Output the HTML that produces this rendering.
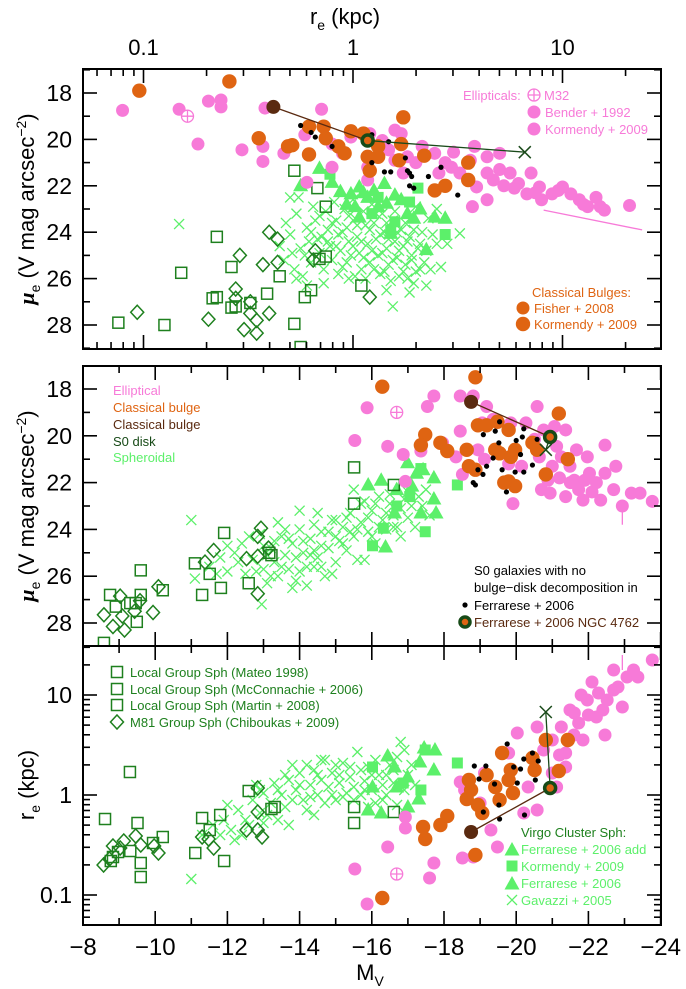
<!DOCTYPE html>
<html><head><meta charset="utf-8"><style>
html,body{margin:0;padding:0;background:#fff}
svg{display:block;font-family:"Liberation Sans",sans-serif}
</style></head><body>
<svg id="chart" width="686" height="989" viewBox="0 0 686 989" xmlns="http://www.w3.org/2000/svg">
<defs>
<clipPath id="c1"><rect x="83" y="69" width="578" height="280"/></clipPath>
<clipPath id="c2"><rect x="83" y="366" width="578" height="280"/></clipPath>
<clipPath id="c3"><rect x="83" y="646" width="578" height="279"/></clipPath>
</defs>
<g id="marks"></g>
<g id="axes"></g>
<text x="345" y="24" font-size="22" text-anchor="middle">r<tspan font-size="14" dy="6">e</tspan><tspan dy="-6"> (kpc)</tspan></text>
<text x="370" y="980" font-size="22" text-anchor="middle">M<tspan font-size="14" dy="6">V</tspan></text>
<text transform="translate(34,209) rotate(-90)" font-size="22" text-anchor="middle"><tspan font-family="Liberation Serif" font-style="italic" font-weight="bold">μ</tspan><tspan font-size="14" dy="6">e</tspan><tspan dy="-6"> (V mag arcsec</tspan><tspan font-size="14" dy="-8">−2</tspan><tspan dy="8">)</tspan></text>
<text transform="translate(34,506) rotate(-90)" font-size="22" text-anchor="middle"><tspan font-family="Liberation Serif" font-style="italic" font-weight="bold">μ</tspan><tspan font-size="14" dy="6">e</tspan><tspan dy="-6"> (V mag arcsec</tspan><tspan font-size="14" dy="-8">−2</tspan><tspan dy="8">)</tspan></text>
<text transform="translate(34,785) rotate(-90)" font-size="22" text-anchor="middle">r<tspan font-size="14" dy="6">e</tspan><tspan dy="-6">  (kpc)</tspan></text>
<g id="legends" font-size="13"></g>
</svg>
<script>
// ---------- DATA ----------
// Panel 1: [log10 re (kpc), mu_e]
const p1Ell=[[-1.10,18.75],[-0.83,18.7],[-0.69,18.35],[-0.63,18.3],[-0.63,18.6],[-0.74,20.2],[-0.53,20.45],[-0.43,20.3],[-0.43,20.95],[-0.42,18.65],[-0.33,20.6],[-0.23,19.8],[-0.22,21.85],[-0.15,18.7],[-0.10,20.2],[-0.01,19.9],[0.08,19.75],[0.07,21.75],[0.17,20.45],[0.20,19.6],[0.23,19.75],[0.26,20.75],[0.33,20.3],[0.39,20.6],[0.41,21.45],[0.48,20.55],[0.47,21.2],[0.51,21.45],[0.58,20.3],[0.56,20.9],[0.59,22.05],[0.64,21.45],[0.64,22.6],[0.67,21.75],[0.70,21.3],[0.72,22.0],[0.75,21.45],[0.79,21.9],[0.83,22.35],[0.85,21.45],[0.89,22.05],[0.90,22.6],[0.95,22.35],[1.00,22.05],[1.04,22.35],[1.08,22.6],[1.12,22.9],[1.16,22.5],[1.20,23.05],[1.32,22.85],[0.57,22.9],[0.20,20.9],[0.24,21.45],[0.07,21.2],[0.14,20.05],[-0.05,20.6],[-0.10,21.2],[0.64,20.75],[0.70,20.6],[0.77,22.1],[0.87,22.3],[0.98,22.2],[1.10,22.8],[1.18,22.9],[0.44,21.0],[0.30,21.0]];
const p1M32=[[-0.79,19.0]];
const p1EllLine=[[0.91,23.05],[1.38,23.9]];
const p1Bul=[[-1.02,17.9],[-0.59,17.5],[-0.45,19.95],[-0.31,20.3],[-0.29,20.25],[-0.21,20.65],[-0.21,19.45],[-0.14,19.45],[-0.13,19.95],[-0.07,20.3],[-0.04,20.6],[-0.01,19.65],[0.05,19.75],[0.07,20.75],[0.08,21.35],[0.12,20.3],[0.12,20.75],[0.22,20.9],[0.24,19.05],[0.23,20.2],[0.34,20.7],[0.39,22.2],[0.44,22.0],[0.55,21.0],[0.55,21.75]];
const p1N4762=[[-0.38,18.6],[0.07,20.05],[0.82,20.55]];
const p1Dots=[[-0.25,19.4],[-0.20,19.7],[-0.18,19.9],[-0.10,20.3],[0.09,19.8],[0.17,20.1],[0.09,21.0],[0.15,21.4],[0.18,21.4],[0.25,20.8],[0.26,21.35],[0.27,21.45],[0.28,21.6],[0.27,22.0],[0.29,22.1],[0.36,21.6],[0.42,21.2],[0.50,22.4]];
const p1Tri=[[-0.25,22.0],[-0.16,21.25],[-0.10,21.85],[-0.06,22.25],[-0.01,22.35],[0.03,22.05],[0.07,22.5],[0.12,22.9],[0.15,21.9],[0.16,22.75],[0.23,22.6],[0.26,23.2],[0.29,23.4],[0.35,24.75],[0.39,23.35],[0.44,23.4],[0.18,24.05],[0.03,23.35],[-0.03,22.8],[0.05,22.3],[0.10,22.2],[0.20,22.4],[0.32,23.0],[0.01,22.9]];
const p1Sq=[[-0.11,21.5],[0.31,22.1],[0.27,22.7],[0.20,23.55],[0.18,23.9],[0.44,24.1],[0.09,23.2],[0.12,22.5]];
const p1X=[[-0.35,24.6],[-0.33,25.2],[-0.30,24.1],[-0.28,25.6],[-0.27,23.2],[-0.25,24.7],[-0.24,25.9],[-0.22,23.8],[-0.21,24.4],[-0.20,25.3],[-0.19,22.9],[-0.18,23.5],[-0.16,24.9],[-0.15,24.2],[-0.14,25.6],[-0.13,23.1],[-0.12,23.9],[-0.11,24.6],[-0.10,25.2],[-0.09,22.7],[-0.08,23.5],[-0.07,24.1],[-0.06,24.8],[-0.05,25.5],[-0.04,23.0],[-0.03,23.8],[-0.02,24.4],[-0.01,25.0],[0.00,22.6],[0.01,23.4],[0.02,24.2],[0.03,24.9],[0.04,25.6],[0.05,23.1],[0.06,23.7],[0.07,24.5],[0.08,25.3],[0.09,22.8],[0.10,23.6],[0.11,24.3],[0.12,25.0],[0.13,25.8],[0.14,23.2],[0.15,24.0],[0.16,24.7],[0.17,25.4],[0.18,26.1],[0.19,23.5],[0.20,24.4],[0.21,25.1],[0.22,25.9],[0.23,23.9],[0.24,24.6],[0.25,25.4],[0.26,26.0],[0.27,24.2],[0.28,25.0],[0.30,25.7],[0.32,24.5],[0.34,25.3],[0.36,23.4],[0.38,24.1],[0.40,23.0],[0.42,25.5],[0.45,24.5],[0.29,26.2],[-0.30,22.5],[-0.26,22.5],[-0.83,23.65],[0.19,27.2],[0.51,24.05],[0.35,26.3],
[-0.32,23.6],[-0.29,24.9],[-0.27,26.0],[-0.23,25.0],[-0.22,26.3],[-0.20,24.0],[-0.17,24.3],[-0.16,23.3],[-0.14,26.2],[-0.12,24.4],[-0.10,23.6],[-0.08,24.6],[-0.07,25.8],[-0.05,24.0],[-0.03,25.3],[-0.02,23.3],[0.00,24.6],[0.01,25.9],[0.02,23.7],[0.04,24.4],[0.05,25.1],[0.06,26.0],[0.08,23.9],[0.09,24.8],[0.10,25.6],[0.11,23.2],[0.13,24.1],[0.14,24.9],[0.15,25.7],[0.16,23.6],[0.17,24.3],[0.19,25.2],[0.20,23.1],[0.21,24.0],[0.22,24.8],[0.24,25.7],[0.25,23.6],[0.26,24.4],[0.28,25.2],[0.29,23.9],[0.31,24.7],[0.32,25.6],[0.33,24.0],[0.35,24.8],[0.37,25.6],[0.27,26.6],[0.16,26.5],[-0.02,26.0],[0.40,24.5],[0.30,22.9]];
const p1LG=[[-1.12,27.9],[-0.90,28.0],[-0.82,25.75],[-0.65,24.2],[-0.67,26.85],[-0.65,26.8],[-0.58,25.5],[-0.58,27.25],[-0.56,27.2],[-0.49,27.05],[-0.41,26.65],[-0.35,25.9],[-0.28,21.35],[-0.28,27.95],[-0.25,28.95],[-0.23,26.8],[-0.20,26.5],[-0.17,22.1],[-0.13,22.9],[-0.13,25.05],[-0.16,25.15],[0.04,26.3]];
const p1M81=[[-1.03,27.45],[-0.69,27.75],[-0.56,26.45],[-0.56,26.85],[-0.54,25.0],[-0.49,27.0],[-0.49,27.5],[-0.46,27.8],[-0.52,28.2],[-0.46,28.35],[-0.40,27.5],[-0.43,25.4],[-0.40,24.0],[-0.36,24.3],[-0.36,25.3],[-0.18,24.8],[-0.19,25.2],[0.08,26.8]];

// Panel 2: [M_V, mu_e]
const p2Ell=[[-15.87,18.8],[-15.53,20.2],[-16.44,20.45],[-16.87,20.8],[-16.93,21.95],[-17.36,20.65],[-17.54,18.75],[-17.72,18.3],[-17.96,20.3],[-18.33,20.9],[-18.45,19.8],[-18.45,18.3],[-18.51,21.65],[-18.81,18.3],[-19.18,18.75],[-19.06,19.45],[-19.36,19.3],[-18.94,20.6],[-19.12,21.0],[-19.91,22.9],[-20.15,21.3],[-20.27,19.45],[-20.58,18.75],[-20.51,20.15],[-20.76,19.75],[-21.06,19.6],[-21.37,19.75],[-21.12,20.45],[-21.0,21.3],[-21.25,20.9],[-21.49,21.3],[-21.61,21.9],[-21.73,22.3],[-21.37,22.6],[-21.97,20.9],[-22.03,21.6],[-22.22,22.0],[-22.46,20.4],[-22.46,21.6],[-22.70,22.3],[-22.76,21.3],[-22.94,23.0],[-23.19,22.45],[-23.43,22.45],[-23.77,22.8],[-20.88,21.9],[-21.85,22.75],[-22.34,22.75],[-20.64,20.9],[-19.79,21.2],[-19.85,19.45],[-21.67,20.6],[-20.94,22.45],[-21.5,22.0],[-21.9,21.9],[-22.1,22.4],[-21.2,21.8],[-20.7,22.3]];
const p2M32=[[-16.69,19.0]];
const p2Bul=[[-16.29,17.9],[-18.87,17.5],[-21.18,19.05],[-17.48,19.95],[-17.36,20.4],[-17.90,20.3],[-18.09,20.65],[-18.63,20.6],[-18.69,21.3],[-18.94,19.55],[-19.18,19.55],[-19.48,19.4],[-19.79,19.75],[-19.42,20.6],[-19.54,20.75],[-19.85,20.9],[-19.97,20.6],[-19.79,21.95],[-19.97,22.15],[-20.45,20.3],[-20.58,20.6],[-20.82,21.65],[-21.43,21.0],[-18.87,21.45],[-19.67,22.0]];
const p2N4762=[[-18.75,18.55],[-20.94,20.05],[-20.82,20.6]];
const p2Dots=[[-19.54,19.4],[-20.21,19.7],[-19.09,19.95],[-19.42,19.8],[-20.17,20.05],[-20.0,20.2],[-19.52,20.3],[-20.58,20.15],[-19.36,20.95],[-20.12,20.8],[-20.45,21.25],[-19.18,21.3],[-18.94,21.45],[-19.08,21.65],[-19.61,21.45],[-19.97,21.55],[-20.21,21.55],[-18.81,22.0],[-18.87,22.1],[-19.73,22.4]];
const p2Tri=[[-16.99,21.15],[-17.42,21.45],[-17.72,21.8],[-15.90,22.1],[-16.26,21.9],[-17.24,21.6],[-17.11,22.15],[-17.36,23.3],[-17.78,23.3],[-16.38,24.75],[-16.69,22.3],[-17.72,22.7],[-16.63,23.3]];
const p2Sq=[[-17.36,21.4],[-18.37,22.1],[-17.48,24.1],[-16.02,24.7],[-16.32,23.95],[-17.05,22.6],[-16.69,23.0]];
const p2X=[[-11.1,26.1],[-11.0,23.6],[-12.95,27.2],[-11.5,25.6],[-11.8,25.2],[-12.0,25.8],[-12.2,25.0],[-12.4,24.6],[-12.5,25.9],[-12.7,25.3],[-12.9,24.2],[-13.0,25.7],[-13.1,26.3],[-13.2,24.8],[-13.3,25.4],[-13.4,26.0],[-13.5,24.3],[-13.6,25.1],[-13.7,25.7],[-13.8,24.6],[-13.9,26.2],[-14.0,24.0],[-14.1,25.0],[-14.2,25.6],[-14.3,24.4],[-14.4,23.8],[-14.5,25.2],[-14.6,24.7],[-14.7,26.0],[-14.8,24.1],[-14.9,23.6],[-15.0,25.4],[-15.1,24.5],[-15.2,23.9],[-15.3,24.9],[-15.4,23.3],[-15.5,24.3],[-15.6,25.3],[-15.7,23.7],[-15.8,22.8],[-15.9,24.1],[-16.0,23.2],[-16.1,24.6],[-16.2,22.6],[-16.3,23.6],[-16.4,24.0],[-16.5,22.9],[-16.6,23.4],[-16.8,24.3],[-16.9,22.7],[-17.0,23.5],[-17.2,23.9],[-17.4,23.0],[-13.6,24.0],[-14.2,26.4],[-14.9,25.9],[-15.5,22.3],[-13.0,24.7],[-12.6,24.3],[-14.5,23.3],[-15.8,25.3],[-16.7,23.9],[-17.6,23.4],
[-12.3,25.4],[-12.8,25.8],[-13.1,25.1],[-13.3,24.5],[-13.5,25.6],[-13.7,24.4],[-13.9,25.2],[-14.0,25.8],[-14.1,24.5],[-14.3,25.1],[-14.4,24.9],[-14.6,25.6],[-14.6,24.1],[-14.8,24.8],[-15.0,24.3],[-15.0,23.6],[-15.2,24.6],[-15.3,23.5],[-15.4,24.1],[-15.6,24.0],[-15.7,22.9],[-15.9,23.5],[-16.0,24.3],[-16.1,22.9],[-16.2,23.9],[-16.4,23.3],[-16.5,22.5],[-16.6,23.9],[-16.8,23.1],[-17.0,22.4],[-17.1,23.0],[-17.3,22.6],[-17.5,22.3],[-13.2,26.0],[-13.8,26.5],[-14.4,25.6],[-12.0,24.7],[-11.7,25.9],[-13.4,23.7],[-14.0,23.2]];
const p2LG=[[-8.75,26.8],[-8.91,27.3],[-9.31,27.15],[-9.60,25.75],[-9.60,26.8],[-9.49,27.95],[-9.46,27.15],[-10.21,26.6],[-8.58,28.85],[-11.10,25.45],[-11.30,26.8],[-11.51,25.9],[-11.82,26.5],[-11.91,24.15],[-12.59,26.3],[-13.22,25.1],[-13.16,25.0],[-15.51,21.35],[-15.51,22.9],[-16.61,22.1]];
const p2M81=[[-8.58,27.65],[-8.83,28.15],[-9.03,26.85],[-9.09,27.7],[-9.15,28.3],[-9.43,27.5],[-9.58,27.05],[-9.94,27.55],[-10.09,26.45],[-11.38,25.4],[-11.62,24.9],[-12.53,25.25],[-12.84,25.15],[-12.93,23.95],[-12.84,24.3],[-13.14,24.8],[-12.84,26.75]];

// Panel 3: [M_V, log10 re (kpc)]
const p3Ell=[[-15.87,-1.09],[-15.53,-0.74],[-16.44,-0.52],[-16.93,-0.33],[-16.93,-0.22],[-17.72,-0.68],[-17.60,-0.83],[-18.51,-0.63],[-18.81,-0.62],[-18.45,0.13],[-18.57,0.05],[-19.0,-0.08],[-19.30,-0.35],[-19.48,-0.52],[-19.79,0.42],[-20.03,0.62],[-20.21,-0.18],[-20.33,0.08],[-20.58,-0.15],[-20.58,0.68],[-20.76,0.45],[-21.0,0.55],[-21.25,0.68],[-21.37,0.42],[-21.37,0.28],[-21.49,0.85],[-21.73,0.72],[-21.97,0.95],[-22.10,1.13],[-22.22,0.78],[-22.46,0.6],[-22.52,0.95],[-22.70,1.25],[-22.82,1.08],[-22.94,0.88],[-23.07,1.18],[-23.37,1.18],[-23.77,1.35],[-21.0,0.22],[-21.85,0.55],[-21.61,0.82],[-22.28,1.02],[-21.12,0.08],[-19.12,0.22],[-22.7,1.05],[-23.25,1.25],[-21.2,0.4],[-21.6,0.6],[-22.0,0.8],[-22.4,0.85],[-21.8,1.0]];
const p3M32=[[-16.69,-0.79]];
const p3Bul=[[-16.29,-1.03],[-18.87,-0.60],[-17.42,-0.32],[-17.48,-0.44],[-17.90,-0.30],[-18.09,-0.21],[-18.63,-0.04],[-18.69,0.15],[-18.75,0.05],[-18.94,-0.10],[-19.06,-0.18],[-19.18,0.2],[-19.42,0.08],[-19.61,0.42],[-19.79,0.15],[-19.85,0.25],[-19.54,-0.05],[-20.45,0.37],[-20.51,0.25],[-20.82,0.55],[-21.18,0.24],[-21.43,0.55],[-19.91,0.02]];
const p3N4762=[[-18.75,-0.37],[-20.94,0.07],[-20.82,0.83]];
const p3Dots=[[-18.84,0.29],[-18.97,0.16],[-19.16,0.29],[-19.09,-0.17],[-19.40,0.11],[-19.52,-0.1],[-19.54,-0.24],[-19.75,0.51],[-19.93,0.28],[-20.03,0.12],[-20.12,0.26],[-20.21,0.36],[-20.23,-0.2],[-20.45,0.42],[-20.53,0.15],[-20.61,0.34]];
const p3Tri=[[-17.75,0.45],[-17.45,0.47],[-17.33,0.33],[-17.72,0.25],[-16.44,0.39],[-16.63,0.28],[-16.26,-0.18],[-15.90,-0.15],[-17.30,-0.04],[-17.0,-0.12],[-16.69,0.08],[-16.02,0.08],[-16.99,0.18]];
const p3Sq=[[-17.48,0.45],[-18.37,0.32],[-16.02,0.28],[-17.36,0.05],[-16.87,0.12]];
const p3X=[[-11.0,-0.84],[-11.3,-0.4],[-11.6,-0.3],[-11.9,-0.25],[-12.1,-0.35],[-12.3,-0.15],[-12.5,-0.25],[-12.7,-0.05],[-12.9,-0.18],[-13.0,0.02],[-13.2,-0.08],[-13.3,0.12],[-13.5,0.0],[-13.6,-0.12],[-13.7,0.15],[-13.9,0.05],[-14.0,0.22],[-14.1,-0.05],[-14.3,0.1],[-14.4,0.25],[-14.5,0.0],[-14.6,0.15],[-14.8,0.08],[-14.9,0.22],[-15.0,-0.05],[-15.1,0.12],[-15.3,0.02],[-15.4,0.18],[-15.5,0.08],[-15.6,0.43],[-15.7,0.0],[-15.8,0.14],[-15.9,0.28],[-16.0,0.05],[-16.1,-0.08],[-16.2,0.2],[-16.3,0.1],[-16.4,0.0],[-16.5,0.3],[-16.6,0.12],[-16.8,0.53],[-16.9,0.05],[-17.0,0.2],[-17.2,0.1],[-13.4,-0.25],[-14.2,-0.15],[-12.8,0.1],[-15.2,0.32],[-16.7,-0.1],[-14.7,0.35],[-13.8,0.3],[-12.4,-0.4],
[-12.0,-0.1],[-12.6,-0.3],[-12.9,0.05],[-13.1,-0.2],[-13.4,0.05],[-13.6,0.2],[-13.8,-0.05],[-14.0,0.1],[-14.2,0.3],[-14.3,-0.02],[-14.5,0.2],[-14.6,0.35],[-14.7,-0.08],[-14.9,0.0],[-15.0,0.3],[-15.1,0.2],[-15.2,-0.02],[-15.4,0.28],[-15.5,-0.05],[-15.7,0.25],[-15.8,0.05],[-16.0,0.2],[-16.1,0.35],[-16.3,-0.05],[-16.4,0.2],[-16.6,0.25],[-16.7,0.38],[-17.1,0.3],[-13.0,-0.28],[-13.7,-0.3],[-14.4,-0.2],[-12.2,-0.45],[-11.8,-0.4],[-16.9,0.45],[-15.9,-0.12]];
const p3LG=[[-8.61,-0.24],[-9.30,0.23],[-9.51,-0.28],[-8.97,-0.57],[-9.31,-0.56],[-8.83,-0.62],[-8.77,-0.66],[-9.60,-0.68],[-9.60,-0.82],[-9.94,-0.48],[-10.21,-0.42],[-11.11,-0.58],[-11.30,-0.23],[-11.51,-0.35],[-11.80,-0.2],[-11.91,-0.66],[-12.59,0.04],[-13.22,-0.14],[-13.31,-0.12],[-15.51,-0.12],[-15.51,-0.28],[-16.61,-0.17]];
const p3M81=[[-8.57,-0.7],[-8.73,-0.64],[-8.83,-0.51],[-9.03,-0.53],[-9.13,-0.46],[-9.46,-0.41],[-9.60,-0.5],[-9.97,-0.51],[-10.09,-0.58],[-11.30,-0.42],[-11.48,-0.44],[-11.62,-0.53],[-12.53,-0.35],[-12.84,0.07],[-12.84,-0.17],[-12.84,-0.35],[-12.96,-0.42]];

const mvTicks=[-8,-10,-12,-14,-16,-18,-20,-22,-24];
const muTicks=[18,20,22,24,26,28];
const reTicks=[0.1,1,10];

// ---------- SCALES ----------
const xR=l=>353+l*209.5;
const xM=m=>83+(-m-8)*36.1;
const yMu1=u=>93+(u-18)*23.2;
const yMu2=u=>389+(u-18)*23.4;
const yR3=l=>795-l*100;

const NS='http://www.w3.org/2000/svg';
const marks=document.getElementById('marks');
const axes=document.getElementById('axes');
const legends=document.getElementById('legends');
function el(tag,attrs,parent){const e=document.createElementNS(NS,tag);for(const k in attrs)e.setAttribute(k,attrs[k]);parent.appendChild(e);return e;}

const PINK='#f77ad8',ORANGE='#df6412',BROWN='#5a2a10',DKG='#1e801e',LTG='#5cf06a';

function drawSet(g,data,fx,fy,kind,color,name){
  for(const d of data){
    const x=fx(d[0]),y=fy(d[1]);let e;
    if(kind==='circle'){e=el('circle',{cx:x,cy:y,r:6.5,fill:color},g);}
    else if(kind==='bigcircle'){e=el('circle',{cx:x,cy:y,r:7.2,fill:color},g);}
    else if(kind==='dot'){e=el('circle',{cx:x,cy:y,r:2.6,fill:'#000'},g);}
    else if(kind==='osq'){e=el('rect',{x:x-5.5,y:y-5.5,width:11,height:11,fill:'none',stroke:color,'stroke-width':1.5},g);}
    else if(kind==='fsq'){e=el('rect',{x:x-5.5,y:y-5.5,width:11,height:11,fill:color},g);}
    else if(kind==='dia'){e=el('path',{d:`M${x} ${y-7}L${x+6.5} ${y}L${x} ${y+7}L${x-6.5} ${y}Z`,fill:'none',stroke:color,'stroke-width':1.5},g);}
    else if(kind==='tri'){e=el('path',{d:`M${x} ${y-8}L${x+7.5} ${y+5.5}L${x-7.5} ${y+5.5}Z`,fill:color},g);}
    else if(kind==='x'){e=el('path',{d:`M${x-5} ${y-5}L${x+5} ${y+5}M${x+5} ${y-5}L${x-5} ${y+5}`,stroke:color,'stroke-width':1.3,fill:'none'},g);}
    else if(kind==='m32'){e=el('path',{d:`M${x-6} ${y}a6 6 0 1 0 12 0a6 6 0 1 0 -12 0M${x-6} ${y}H${x+6}M${x} ${y-6}V${y+6}`,stroke:color,'stroke-width':1.3,fill:'#fff'},g);}
    
    
  }
}
function drawN4762(g,d,fx,fy,pref){
  const b=d[0],t=d[1],k=d[2];
  let l=el('line',{x1:fx(b[0]),y1:fy(b[1]),x2:fx(t[0]),y2:fy(t[1]),stroke:BROWN,'stroke-width':1.3},g);
  
  
  let l2=el('line',{x1:fx(t[0]),y1:fy(t[1]),x2:fx(k[0]),y2:fy(k[1]),stroke:'#1a4a1a','stroke-width':1.3},g);
  
  
  let c=el('circle',{cx:fx(b[0]),cy:fy(b[1]),r:7,fill:BROWN},g);
  
  
  let r=el('circle',{cx:fx(t[0]),cy:fy(t[1]),r:5.5,fill:ORANGE,stroke:'#174a17','stroke-width':3.5},g);
  
  
  let x=fx(k[0]),y=fy(k[1]);
  let xm=el('path',{d:`M${x-6} ${y-6}L${x+6} ${y+6}M${x+6} ${y-6}L${x-6} ${y+6}`,stroke:'#1a4a1a','stroke-width':1.5},g);
  
  
}

// Panel 1
const g1=el('g',{'clip-path':'url(#c1)'},marks);


drawSet(g1,p1X,xR,yMu1,'x',LTG,'gavazzi-point');
drawSet(g1,p1Tri,xR,yMu1,'tri',LTG,'ferrarese-triangle');
drawSet(g1,p1Sq,xR,yMu1,'fsq',LTG,'kormendy-sph-square');
drawSet(g1,p1LG,xR,yMu1,'osq',DKG,'local-group-sph');
drawSet(g1,p1M81,xR,yMu1,'dia',DKG,'m81-group-sph');
drawSet(g1,p1Ell,xR,yMu1,'circle',PINK,'elliptical-point');
let pl=el('line',{x1:xR(p1EllLine[0][0]),y1:yMu1(p1EllLine[0][1]),x2:xR(p1EllLine[1][0]),y2:yMu1(p1EllLine[1][1]),stroke:PINK,'stroke-width':1.3},g1);


drawSet(g1,p1M32,xR,yMu1,'m32',PINK,'m32-point');
drawSet(g1,p1Bul,xR,yMu1,'bigcircle',ORANGE,'classical-bulge-point');
drawSet(g1,p1Dots,xR,yMu1,'dot','#000','s0-ferrarese-dot');
drawN4762(g1,p1N4762,xR,yMu1,'ngc4762-p1');

// Panel 2
const g2=el('g',{'clip-path':'url(#c2)'},marks);


drawSet(g2,p2X,xM,yMu2,'x',LTG,'gavazzi-point');
drawSet(g2,p2Tri,xM,yMu2,'tri',LTG,'ferrarese-triangle');
drawSet(g2,p2Sq,xM,yMu2,'fsq',LTG,'kormendy-sph-square');
drawSet(g2,p2LG,xM,yMu2,'osq',DKG,'local-group-sph');
drawSet(g2,p2M81,xM,yMu2,'dia',DKG,'m81-group-sph');
drawSet(g2,p2Ell,xM,yMu2,'circle',PINK,'elliptical-point');
let et2=el('line',{x1:xM(-22.94),y1:yMu2(23.0),x2:xM(-22.94),y2:yMu2(23.8),stroke:PINK,'stroke-width':1.3},g2);


drawSet(g2,p2M32,xM,yMu2,'m32',PINK,'m32-point');
drawSet(g2,p2Bul,xM,yMu2,'bigcircle',ORANGE,'classical-bulge-point');
drawSet(g2,p2Dots,xM,yMu2,'dot','#000','s0-ferrarese-dot');
drawN4762(g2,p2N4762,xM,yMu2,'ngc4762-p2');

// Panel 3
const g3=el('g',{'clip-path':'url(#c3)'},marks);


drawSet(g3,p3X,xM,yR3,'x',LTG,'gavazzi-point');
drawSet(g3,p3Tri,xM,yR3,'tri',LTG,'ferrarese-triangle');
drawSet(g3,p3Sq,xM,yR3,'fsq',LTG,'kormendy-sph-square');
drawSet(g3,p3LG,xM,yR3,'osq',DKG,'local-group-sph');
drawSet(g3,p3M81,xM,yR3,'dia',DKG,'m81-group-sph');
drawSet(g3,p3Ell,xM,yR3,'circle',PINK,'elliptical-point');
let et3=el('line',{x1:xM(-22.94),y1:yR3(1.25),x2:xM(-22.94),y2:yR3(1.4),stroke:PINK,'stroke-width':1.3},g3);


drawSet(g3,p3M32,xM,yR3,'m32',PINK,'m32-point');
drawSet(g3,p3Bul,xM,yR3,'bigcircle',ORANGE,'classical-bulge-point');
drawSet(g3,p3Dots,xM,yR3,'dot','#000','s0-ferrarese-dot');
drawN4762(g3,p3N4762,xM,yR3,'ngc4762-p3');

// ---------- AXES ----------
function frame(y0,y1,name){
  const r=el('rect',{x:83,y:y0,width:578,height:y1-y0,fill:'none',stroke:'#000','stroke-width':2},axes);
  
  
}
frame(69,349,'panel1-frame');frame(366,646,'panel2-frame');frame(646,925,'panel3-frame');
function tick(x1,y1,x2,y2){el('line',{x1,y1,x2,y2,stroke:'#000','stroke-width':1.6},axes);}
function label(x,y,txt,anchor,name,size){
  const t=el('text',{x,y,'font-size':size||22,'text-anchor':anchor},axes);t.textContent=txt;
  
  
}
for(let dec=-2;dec<=1;dec++)for(let k=1;k<=9;k++){
  const l=dec+Math.log10(k),x=xR(l);if(x<84||x>660)continue;
  const len=k===1?14:7;tick(x,69,x,69+len);tick(x,349,x,349-len);
}
reTicks.forEach(v=>label(xR(Math.log10(v)),55,String(v),'middle','top-tick-label',22));
for(let m=-8;m>=-24;m--){
  const x=xM(m),len=(m%2===0)?14:7;
  if(x>83&&x<661){tick(x,366,x,366+len);tick(x,646,x,646-len);tick(x,646,x,646+len);tick(x,925,x,925-len);}
}
mvTicks.forEach(m=>label(xM(m),955,'−'+(-m),'middle','x-tick-label',24));
for(let u=17;u<=29;u++){
  const len=(u%2===0)?14:7;
  [[yMu1,69,349],[yMu2,366,646]].forEach(([f,a,b])=>{const y=f(u);if(y>a&&y<b){tick(83,y,83+len,y);tick(661,y,661-len,y);}});
}
muTicks.forEach(u=>{label(72,yMu1(u)+8,String(u),'end','y-tick-label-p1',23);label(72,yMu2(u)+8,String(u),'end','y-tick-label-p2',23);});
for(let dec=-2;dec<=1;dec++)for(let k=1;k<=9;k++){
  const l=dec+Math.log10(k),y=yR3(l);if(y<647||y>924)continue;
  const len=k===1?14:7;tick(83,y,83+len,y);tick(661,y,661-len,y);
}
reTicks.forEach(v=>label(72,yR3(Math.log10(v))+8,String(v),'end','y-tick-label-p3',23));

// ---------- LEGENDS ----------
function ltext(x,y,txt,color,name,size){
  const t=el('text',{x,y,fill:color,'font-size':size||13},legends);t.textContent=txt;
  
  
  return t;
}
function lsym(kind,x,y,color,name){drawSet(legends,[[x,y]],v=>v,v=>v,kind,color,name);}
ltext(463,100,'Ellipticals:',PINK,'legend-ellipticals-title');
lsym('m32',534,95,PINK,'legend-m32-symbol');ltext(544,100,'M32',PINK,'legend-m32');
lsym('circle',534,112,PINK,'legend-bender-symbol');ltext(545,117,'Bender + 1992',PINK,'legend-bender');
lsym('circle',534,129,PINK,'legend-kormendy-ell-symbol');ltext(545,134,'Kormendy + 2009',PINK,'legend-kormendy-ell');
ltext(532,297,'Classical Bulges:',ORANGE,'legend-bulges-title');
lsym('circle',523,308,ORANGE,'legend-fisher-symbol');ltext(534,313,'Fisher + 2008',ORANGE,'legend-fisher');
lsym('bigcircle',523,324,ORANGE,'legend-kormendy-bul-symbol');ltext(534,329,'Kormendy + 2009',ORANGE,'legend-kormendy-bul');
ltext(113,395,'Elliptical',PINK,'legend-key-elliptical');
ltext(113,412,'Classical bulge',ORANGE,'legend-key-bulge');
ltext(113,429,'Classical bulge',BROWN,'legend-key-bulge-ngc4762');
ltext(113,446,'S0 disk','#174a17','legend-key-s0-disk');
ltext(113,462,'Spheroidal',LTG,'legend-key-spheroidal');
ltext(474,575,'S0 galaxies with  no','#000','legend-s0-title');
ltext(474,592,'bulge−disk  decomposition  in','#000','legend-s0-title2');
lsym('dot',465,605,'#000','legend-ferrarese-dot-symbol');ltext(474,610,'Ferrarese + 2006','#000','legend-ferrarese-dot');
let lr=el('circle',{cx:465,cy:622,r:5,fill:ORANGE,stroke:'#174a17','stroke-width':3.5},legends);


ltext(474,627,'Ferrarese + 2006 NGC 4762',BROWN,'legend-ngc4762');
lsym('osq',117,672,DKG,'legend-mateo-symbol');ltext(130,677,'Local Group Sph (Mateo 1998)',DKG,'legend-mateo');
lsym('osq',117,689,DKG,'legend-mcconnachie-symbol');ltext(130,694,'Local Group Sph (McConnachie + 2006)',DKG,'legend-mcconnachie');
lsym('osq',117,705,DKG,'legend-martin-symbol');ltext(130,710,'Local Group Sph (Martin + 2008)',DKG,'legend-martin');
lsym('dia',117,722,DKG,'legend-m81-symbol');ltext(130,727,'M81  Group Sph (Chiboukas + 2009)',DKG,'legend-m81');
ltext(521,837,'Virgo Cluster Sph:',DKG,'legend-virgo-title');
lsym('tri',512,850,LTG,'legend-ferrarese-add-symbol');ltext(521,854,'Ferrarese + 2006 add',LTG,'legend-ferrarese-add');
lsym('fsq',512,866,LTG,'legend-kormendy-sph-symbol');ltext(521,871,'Kormendy + 2009',LTG,'legend-kormendy-sph');
lsym('tri',512,884,LTG,'legend-ferrarese-symbol');ltext(521,888,'Ferrarese + 2006',LTG,'legend-ferrarese');
lsym('x',512,900,LTG,'legend-gavazzi-symbol');ltext(521,905,'Gavazzi + 2005',LTG,'legend-gavazzi');
</script>
</body></html>
